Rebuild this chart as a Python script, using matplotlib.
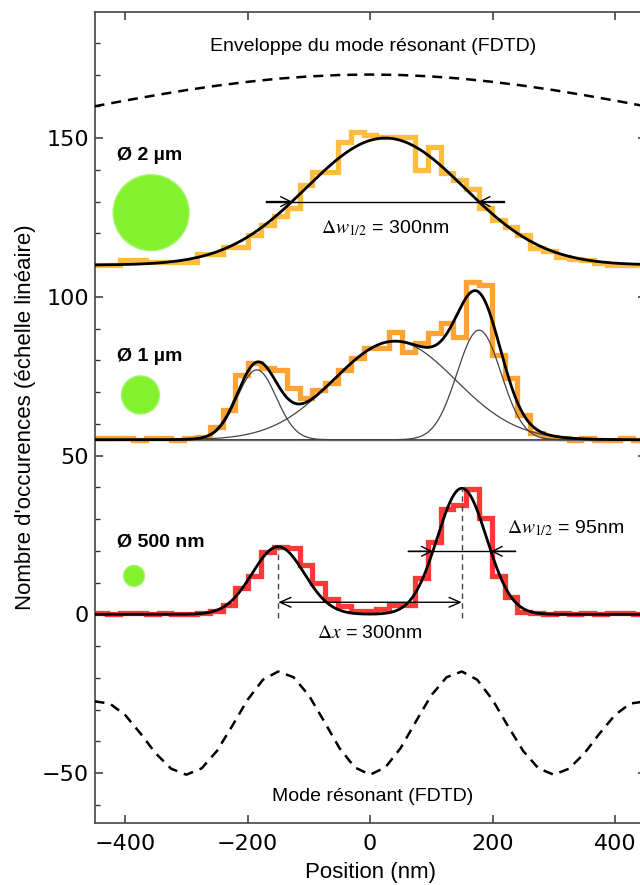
import numpy as np
import matplotlib
matplotlib.use('Agg')
import matplotlib.pyplot as plt
from matplotlib.ticker import MultipleLocator

plt.rcParams['font.family'] = ['DejaVu Sans']
plt.rcParams['mathtext.fontset'] = 'stix'

TXT = ['Liberation Sans', 'DejaVu Sans']

# histogram bins (43 bins over the window)
edges = np.linspace(-450, 450, 44)

# counts, one value per bin
counts_2um = [110, 110, 111.5, 111.5, 111, 111, 111, 111, 113.5, 113.5,
              115.8, 115.8, 119.5, 122.6, 125.3, 127.9, 135.2, 139.4, 139.4, 148.9,
              152.0, 151.0, 150.4, 150.4, 150.4, 139.9, 147.3, 138.9, 136.8, 133.8,
              127.9, 124.2, 122.1, 119.5, 115.3, 114.5, 112.5, 112, 111.5, 110.8,
              110, 110, 110]
counts_1um = [55.5, 55.5, 55.5, 55, 55.5, 55.5, 55, 55.5, 56, 59,
              64.4, 75.4, 79, 77.5, 77, 71.2, 68, 70.6, 72.7, 76.9,
              80.6, 83.8, 83.8, 89, 82.7, 85.3, 88.5, 91.6, 87.4, 104.8,
              103.7, 81.7, 74.3, 62.8, 57.1, 56, 55.5, 55, 55.5, 55,
              55, 55.5, 55]
counts_500nm = [0.5, 0, 0.5, 0.5, 0, 0.5, 0, 0, 0.3, 1,
                3, 8.2, 12, 19.7, 21.3, 21, 15.6, 9.9, 4.7, 2.6,
                1, 1, 1.8, 2.9, 2.9, 11.4, 22.9, 33.3, 34.5, 39.5,
                30.2, 12, 5.5, 0.8, 0.3, 0, 0.5, 0, 0.5, 0,
                0.5, 0.5, 0]

# gaussian fits: (amplitude, centre nm, fwhm nm) above a baseline
base_2um = 110
fit_2um = [(40, 25, 305)]
base_1um = 55
fit_1um = [(22, -185, 75), (31, 40, 235), (34.5, 178, 85)]
base_500nm = 0
fit_500nm = [(21.3, -150, 100), (39.7, 150, 95)]

# FDTD curves (dashed)
env_x = [-450, -400, -350, -300, -250, -200, -150, -100, -50, 0,
         50, 100, 150, 200, 250, 300, 350, 400, 450]
env_y = [160.0, 161.8, 163.5, 165.1, 166.5, 167.7, 168.7, 169.4, 169.85, 170.0,
         169.85, 169.4, 168.7, 167.7, 166.5, 165.1, 163.5, 161.8, 160.0]
mode_x = list(range(-450, 451, 25))
mode_y = [-27.4, -28.1, -31.7, -37.5, -43.8, -48.6, -50.5, -48.5, -43.0, -35.1,
          -26.9, -20.6, -18.0, -19.8, -25.5, -33.7, -42.1, -48.2, -50.5, -48.2,
          -42.1, -33.7, -25.5, -19.8, -18.0, -20.6, -26.9, -35.1, -43.0, -48.5,
          -50.5, -48.6, -43.8, -37.5, -31.7, -28.1, -27.4]


def gauss(x, a, c, w):
    return a * np.exp(-4 * np.log(2) * (x - c) ** 2 / w ** 2)


fig = plt.figure(figsize=(6.4, 8.85), dpi=100)
ax = fig.add_axes([0.1477, 0.0701, 0.861, 0.916])

x = np.linspace(-450, 450, 901)

# histograms
for counts, col in [(counts_2um, '#FFB62A'), (counts_1um, '#FF9A1E'), (counts_500nm, '#FF2222')]:
    st = ax.stairs(counts, edges, baseline=None, color=col, lw=3.8, alpha=0.9, zorder=2)
    st.set_joinstyle('miter')

# middle: baseline + components
ax.axhline(base_1um, color='#777777', lw=1.0, zorder=2.5)
for a, c, w in fit_1um:
    ax.plot(x, base_1um + gauss(x, a, c, w), color='#444444', lw=0.9, zorder=2.6)

# fitted sums
for base, fit in [(base_2um, fit_2um), (base_1um, fit_1um), (base_500nm, fit_500nm)]:
    y = base + sum(gauss(x, a, c, w) for a, c, w in fit)
    ax.plot(x, y, color='black', lw=2.0, zorder=3)

# FDTD dashed curves
ax.plot(env_x, env_y, color='black', lw=1.8, ls=(0, (4, 2.8)), zorder=3)
ax.plot(mode_x, mode_y, color='black', lw=1.8, ls=(0, (4, 2.8)), zorder=3)
ax.text(5, 178.8, 'Enveloppe du mode résonant (FDTD)', ha='center', va='center',
        fontsize=14, family=TXT)
ax.text(5, -57.5, 'Mode résonant (FDTD)', ha='center', va='center', fontsize=14, family=TXT)

# FWHM markers
def fwhm_marker(base, a, c, w, ext=42):
    yh = base + a / 2
    l, r = c - w / 2, c + w / 2
    ax.plot([l - ext, r + ext], [yh, yh], color='black', lw=1.0, zorder=4)
    for tip, tail in [(l, l - ext), (r, r + ext)]:
        ax.annotate('', xy=(tip, yh), xytext=(tail, yh), zorder=4,
                    arrowprops=dict(arrowstyle='->,head_length=0.7,head_width=0.35',
                                    color='black', lw=1.0, shrinkA=0, shrinkB=0))

a, c, w = fit_2um[0]
fwhm_marker(base_2um, a, c, w)
ax.text(c, 121.5, r'$\Delta w_{1/2}$ = 300nm', ha='center', va='center', fontsize=14, family=TXT)

a, c, w = fit_500nm[1]
fwhm_marker(base_500nm, a, c, w, ext=40)
ax.text(224, 27, r'$\Delta w_{1/2}$ = 95nm', ha='left', va='center', fontsize=14, family=TXT)

# peak separation
c1, c2 = fit_500nm[0][1], fit_500nm[1][1]
for a, c, w in fit_500nm:
    ax.plot([c, c], [-1, a], color='#444444', lw=1.0, ls=(0, (4, 3)), zorder=3.5)
ax.annotate('', xy=(c1, 3.8), xytext=(c2, 3.8), zorder=4,
            arrowprops=dict(arrowstyle='<->,head_length=0.8,head_width=0.35',
                            color='black', lw=1.0, shrinkA=0, shrinkB=0))
ax.text((c1 + c2) / 2, -6, r'$\Delta x$ = 300nm', ha='center', va='center', fontsize=14, family=TXT)

# sphere sizes
ax.scatter([-357.6, -375, -385.5], [126.5, 69.1, 12.1], s=[2990, 750, 228],
           facecolor='#83F12E', edgecolor='#A3F56A', lw=1.0, zorder=5)
for lab, yy in [('Ø 2 µm', 144.6), ('Ø 1 µm', 81.1), ('Ø 500 nm', 22.9)]:
    ax.text(-414, yy, lab, ha='left', va='center', fontsize=14, fontweight='bold', family=TXT)

ax.set_xlim(-450, 450)
ax.set_ylim(-65.7, 189.6)
ax.set_xticks([-400, -200, 0, 200, 400])
ax.set_yticks([-50, 0, 50, 100, 150])
ax.yaxis.set_minor_locator(MultipleLocator(10))
ax.tick_params(which='both', direction='in', top=True, right=True, color='#333333')
ax.tick_params(which='major', length=5.5, width=1.1, labelsize=16, pad=4)
ax.tick_params(which='minor', length=3.5, width=1.0)
ax.tick_params(axis='x', pad=8)
for sp in ax.spines.values():
    sp.set_color('#444444')
    sp.set_linewidth(1.2)

ax.set_xlabel('Position (nm)', fontsize=16, family=TXT, labelpad=6)
ax.set_ylabel("Nombre d'occurences (échelle linéaire)", fontsize=16, family=TXT)

fig.savefig('out.png', dpi=100)
